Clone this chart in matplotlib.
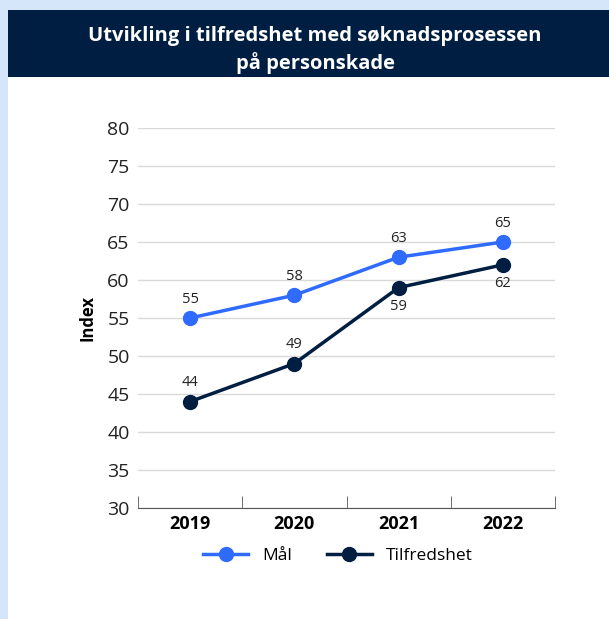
import matplotlib.pyplot as plt
from matplotlib.patches import Rectangle
from matplotlib.lines import Line2D

plt.rcParams["font.family"] = ["Open Sans", "DejaVu Sans"]

years = ["2019", "2020", "2021", "2022"]
maal = [55, 58, 63, 65]
tilfredshet = [44, 49, 59, 62]
# label placement: True = above point
tilf_above = [True, True, False, False]

W, H = 609, 619
fig = plt.figure(figsize=(W / 100, H / 100), dpi=100)
fig.patch.set_facecolor("#d5e6fb")

# white panel and navy header
fig.add_artist(Rectangle((8 / W, 0), 1 - 8 / W, 1 - 10 / H, transform=fig.transFigure,
                         facecolor="white", edgecolor="none", zorder=0))
fig.add_artist(Rectangle((8 / W, 1 - 77 / H), 1 - 8 / W, 67 / H, transform=fig.transFigure,
                         facecolor="#001e41", edgecolor="none", zorder=1))
fig.text(315 / W, 1 - 50 / H, "Utvikling i tilfredshet med søknadsprosessen\npå personskade",
         ha="center", va="center", color="white", fontsize=14.5, fontweight="bold",
         linespacing=1.3, zorder=2)

ax = fig.add_axes([138 / W, 1 - 508 / H, (555 - 138) / W, (508 - 128) / H])
ax.set_facecolor("none")
x = range(len(years))

c_maal = "#2f6bff"
c_tilf = "#001e41"
ax.plot(x, maal, color=c_maal, lw=2.5, marker="o", ms=10, zorder=3, clip_on=False)
ax.plot(x, tilfredshet, color=c_tilf, lw=2.5, marker="o", ms=10, zorder=3, clip_on=False)

for i, v in enumerate(maal):
    ax.annotate(str(v), (i, v), xytext=(0, 8), textcoords="offset points",
                ha="center", va="bottom", fontsize=10.5, color="#222222")
for i, v in enumerate(tilfredshet):
    dy = 8 if tilf_above[i] else -8
    ax.annotate(str(v), (i, v), xytext=(0, dy), textcoords="offset points",
                ha="center", va="bottom" if tilf_above[i] else "top",
                fontsize=10.5, color="#222222")

ax.set_xlim(-0.5, len(years) - 0.5)
ax.set_ylim(30, 80)
ax.set_yticks(range(30, 81, 5))
ax.yaxis.grid(True, color="#d9d9d9", lw=1)
ax.set_axisbelow(True)
ax.tick_params(axis="y", length=0, labelsize=14, pad=6, labelcolor="#222222")

ax.set_xticks(x)
ax.set_xticklabels(years, fontsize=13, fontweight="bold")
ax.tick_params(axis="x", length=0, pad=5)
ax.set_xticks([i - 0.5 for i in range(len(years) + 1)], minor=True)
ax.tick_params(axis="x", which="minor", direction="in", length=9, color="#555555")

for s in ["top", "right", "left"]:
    ax.spines[s].set_visible(False)
ax.spines["bottom"].set_color("#555555")

ax.set_ylabel("Index", fontsize=12, fontweight="bold", labelpad=8)

handles = [Line2D([], [], color=c_maal, lw=2.5, marker="o", ms=10),
           Line2D([], [], color=c_tilf, lw=2.5, marker="o", ms=10)]
fig.legend(handles, ["Mål", "Tilfredshet"], loc="center", bbox_to_anchor=(338 / W, 1 - 556 / H),
           ncol=2, frameon=False, fontsize=12.5, handlelength=2.6, columnspacing=2.0)

fig.savefig("out.png", dpi=100, facecolor=fig.get_facecolor())
